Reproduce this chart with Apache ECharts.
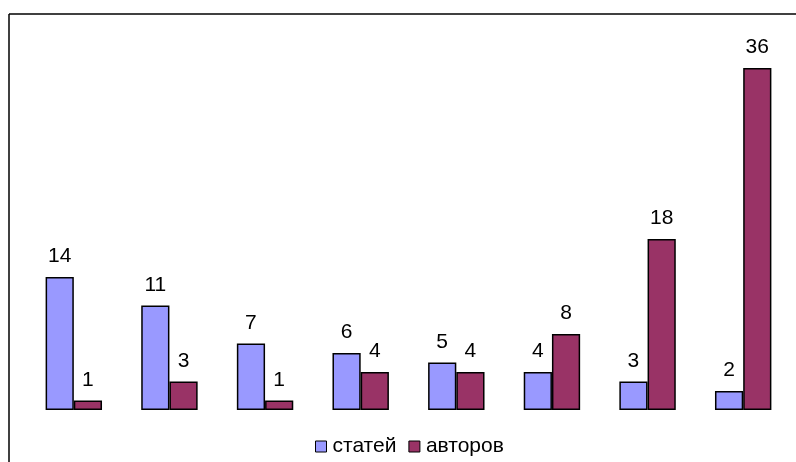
<!DOCTYPE html>
<html><head><meta charset="utf-8">
<script src="https://cdn.jsdelivr.net/npm/echarts@6/dist/echarts.min.js"></script>
<style>html,body{margin:0;padding:0;background:#fff}#c{width:796px;height:462px}</style>
</head><body><div id="c"></div>
<script>
const categories = ['1','2','3','4','5','6','7','8'];
const articles = [14, 11, 7, 6, 5, 4, 3, 2];
const authors = [1, 3, 1, 4, 4, 8, 18, 36];
const seriesNames = ['статей', 'авторов'];

const chart = echarts.init(document.getElementById('c'), null, {renderer: 'canvas'});
const labelStyle = {show: true, position: 'top', distance: 10, color: '#000', fontSize: 21, fontFamily: 'Liberation Sans, Arial, sans-serif'};
chart.setOption({
  animation: false,
  grid: {left: 26, right: 5, top: 68, bottom: 52},
  legend: {
    bottom: 0, left: 310, icon: 'rect', itemWidth: 11, itemHeight: 11, itemGap: 12,
    textStyle: {fontSize: 21, color: '#000', fontFamily: 'Liberation Sans, Arial, sans-serif', padding: [0,0,0,1]},
    data: seriesNames.map(n => ({name: n, itemStyle: {borderColor: '#000', borderWidth: 1}}))
  },
  xAxis: {type: 'category', data: categories, axisLine: {show: false}, axisTick: {show: false}, axisLabel: {show: false}},
  yAxis: {type: 'value', min: 0, max: 36, show: false, splitLine: {show: false}},
  series: [
    {name: seriesNames[0], type: 'bar', data: articles, barGap: '0%', barCategoryGap: '41%',
     itemStyle: {color: '#9999FF', borderColor: '#000', borderWidth: 1.5}, label: labelStyle},
    {name: seriesNames[1], type: 'bar', data: authors,
     itemStyle: {color: '#993366', borderColor: '#000', borderWidth: 1.5}, label: labelStyle}
  ],
  graphic: [
    {type: 'line', shape: {x1: 9, y1: 14, x2: 796, y2: 14}, style: {stroke: '#000', lineWidth: 1.5}},
    {type: 'line', shape: {x1: 9, y1: 14, x2: 9, y2: 462}, style: {stroke: '#000', lineWidth: 1.5}}
  ]
});
</script></body></html>
